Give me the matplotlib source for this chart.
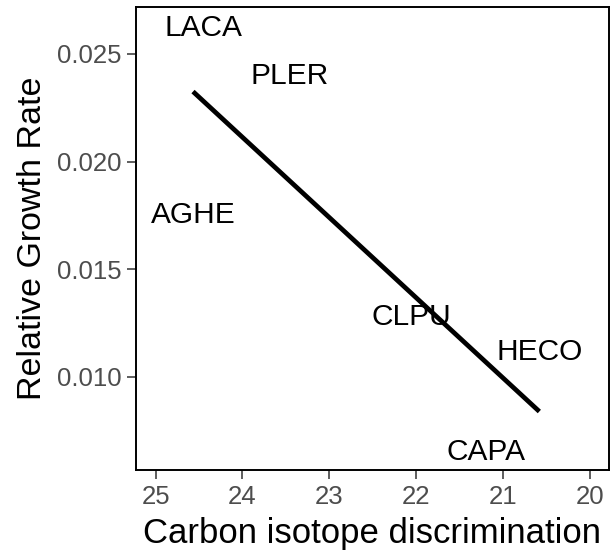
import numpy as np
import matplotlib
matplotlib.use("Agg")
import matplotlib.pyplot as plt

plt.rcParams['font.family'] = ['Liberation Sans', 'DejaVu Sans']

# species means
species = ["LACA", "PLER", "AGHE", "CLPU", "HECO", "CAPA"]
d13c = [24.45, 23.46, 24.57, 22.06, 20.58, 21.20]
rgr = [0.02619, 0.02398, 0.01752, 0.01279, 0.01116, 0.00651]

x_ticks = [25, 24, 23, 22, 21, 20]
y_ticks = [0.010, 0.015, 0.020, 0.025]

fig = plt.figure(figsize=(6.1, 5.59), dpi=100)
ax = fig.add_axes([0.2225, 0.159, 0.7755, 0.828])

for name, x, y in zip(species, d13c, rgr):
    ax.text(x, y, name, ha='center', va='center', fontsize=21.5, color='black')

# linear fit (like geom_smooth(method = "lm", se = FALSE))
slope, intercept = np.polyfit(d13c, rgr, 1)
xs = np.array([min(d13c), max(d13c)])
ax.plot(xs, slope * xs + intercept, color='black', lw=3.4, solid_capstyle='butt')

ax.set_xlim(25.23, 19.78)
ax.set_ylim(0.00566, 0.02717)
ax.set_xticks(x_ticks)
ax.set_xticklabels([str(t) for t in x_ticks])
ax.set_yticks(y_ticks)
ax.set_yticklabels(["%.3f" % t for t in y_ticks])

ax.tick_params(labelsize=18.5, labelcolor='#4D4D4D', color='#333333',
               length=6.5, width=1.1, pad=4)
for s in ax.spines.values():
    s.set_color('black')
    s.set_linewidth(1.4)

ax.set_xlabel("Carbon isotope discrimination", fontsize=25, labelpad=6)
ax.set_ylabel("Relative Growth Rate", fontsize=24.5, labelpad=6)

fig.savefig("out.png", dpi=100)
